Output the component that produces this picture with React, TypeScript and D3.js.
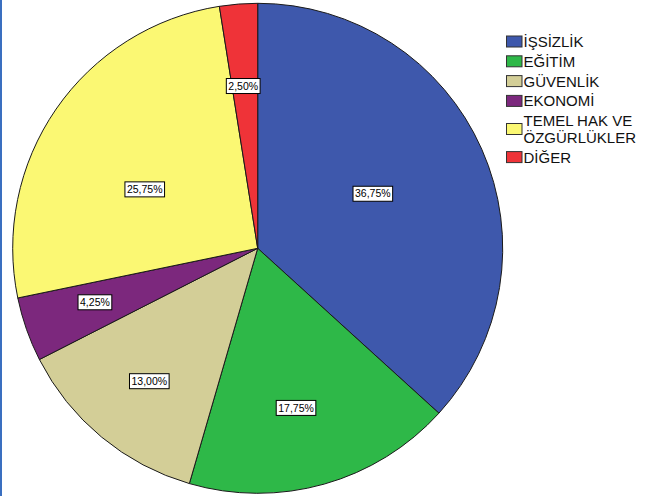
import React, { useEffect, useRef } from "react";
import * as d3 from "d3";

const categories = ["İŞSİZLİK", "EĞİTİM", "GÜVENLİK", "EKONOMİ", "TEMEL HAK VE ÖZGÜRLÜKLER", "DİĞER"];
const percents = [36.75, 17.75, 13.0, 4.25, 25.75, 2.5];
const percentLabels = ["36,75%", "17,75%", "13,00%", "4,25%", "25,75%", "2,50%"];
const colors = ["#3e58ac", "#2eb848", "#d3ce97", "#7c287d", "#fbf873", "#ef3338"];

// layout: label radial fraction and angular shift (degrees) per slice
const labelRadius = [0.52, 0.67, 0.70, 0.70, 0.52, 0.665];
const labelShift = [-1.5, 2.25, -0.4, 1.0, -7.1, -0.6];

const W = 659;
const H = 496;
const CX = 257.7;
const CY = 248.3;
const R = 245;
const FONT = "Arial, 'Liberation Sans', sans-serif";
const LEG_FS = 15;

export default function App() {
  const ref = useRef<SVGSVGElement | null>(null);

  useEffect(() => {
    const svg = d3.select(ref.current);
    svg.selectAll("*").remove();

    svg.append("rect").attr("x", 0).attr("y", 0).attr("width", W).attr("height", H).attr("fill", "#ffffff");
    svg.append("rect").attr("x", 0).attr("y", 0).attr("width", 2).attr("height", H).attr("fill", "#3a6fc0");

    const pie = d3.pie<number>().sort(null).value((d) => d).startAngle(0).endAngle(2 * Math.PI);
    const arcs = pie(percents);
    const arc = d3.arc<d3.PieArcDatum<number>>().innerRadius(0).outerRadius(R);

    const g = svg.append("g").attr("transform", `translate(${CX},${CY})`);
    g.selectAll("path.slice")
      .data(arcs)
      .join("path")
      .attr("class", "slice")
      .attr("d", arc as any)
      .attr("fill", (_d, i) => colors[i])
      .attr("stroke", "#1a1a1a")
      .attr("stroke-width", 1)
      .attr("stroke-linejoin", "round");

    // labels
    arcs.forEach((a, i) => {
      const mid = (a.startAngle + a.endAngle) / 2 + (labelShift[i] * Math.PI) / 180;
      const r = labelRadius[i] * R;
      const x = r * Math.sin(mid);
      const y = -r * Math.cos(mid);
      const lg = g.append("g").attr("transform", `translate(${x},${y})`);
      const rect = lg.append("rect");
      const t = lg
        .append("text")
        .attr("text-anchor", "middle")
        .attr("dy", "0.35em")
        .attr("font-family", FONT)
        .attr("font-size", 10.5)
        .attr("fill", "#000")
        .text(percentLabels[i]);
      const w = (t.node() as SVGTextElement).getComputedTextLength();
      rect
        .attr("x", -w / 2 - 2)
        .attr("y", -7.5)
        .attr("width", w + 4)
        .attr("height", 15)
        .attr("fill", "#ffffff")
        .attr("stroke", "#000")
        .attr("stroke-width", 1);
    });

    // legend
    const leg = svg.append("g");
    const maxW = 130;
    let baseline = 47;
    categories.forEach((name, i) => {
      const words = name.split(" ");
      const lines: string[] = [];
      let cur = "";
      const probe = leg.append("text").attr("font-family", FONT).attr("font-size", LEG_FS);
      words.forEach((w) => {
        const test = cur ? cur + " " + w : w;
        probe.text(test);
        if ((probe.node() as SVGTextElement).getComputedTextLength() > maxW && cur) {
          lines.push(cur);
          cur = w;
        } else cur = test;
      });
      lines.push(cur);
      probe.remove();

      const first = baseline;
      const last = baseline + (lines.length - 1) * 16.6;
      const swY = (first + last) / 2 - 11;
      leg
        .append("rect")
        .attr("x", 506.5)
        .attr("y", swY)
        .attr("width", 15.5)
        .attr("height", 11)
        .attr("fill", colors[i])
        .attr("stroke", "#333")
        .attr("stroke-width", 1);
      lines.forEach((ln, k) => {
        leg
          .append("text")
          .attr("x", 523.5)
          .attr("y", first + k * 16.6)
          .attr("font-family", FONT)
          .attr("font-size", LEG_FS)
          .attr("fill", "#111")
          .text(ln);
      });
      baseline = last + 19.8;
    });
  }, []);

  return (
    <svg
      ref={ref}
      width={W}
      height={H}
      style={{ position: "absolute", left: 0, top: 0, display: "block" }}
    />
  );
}
